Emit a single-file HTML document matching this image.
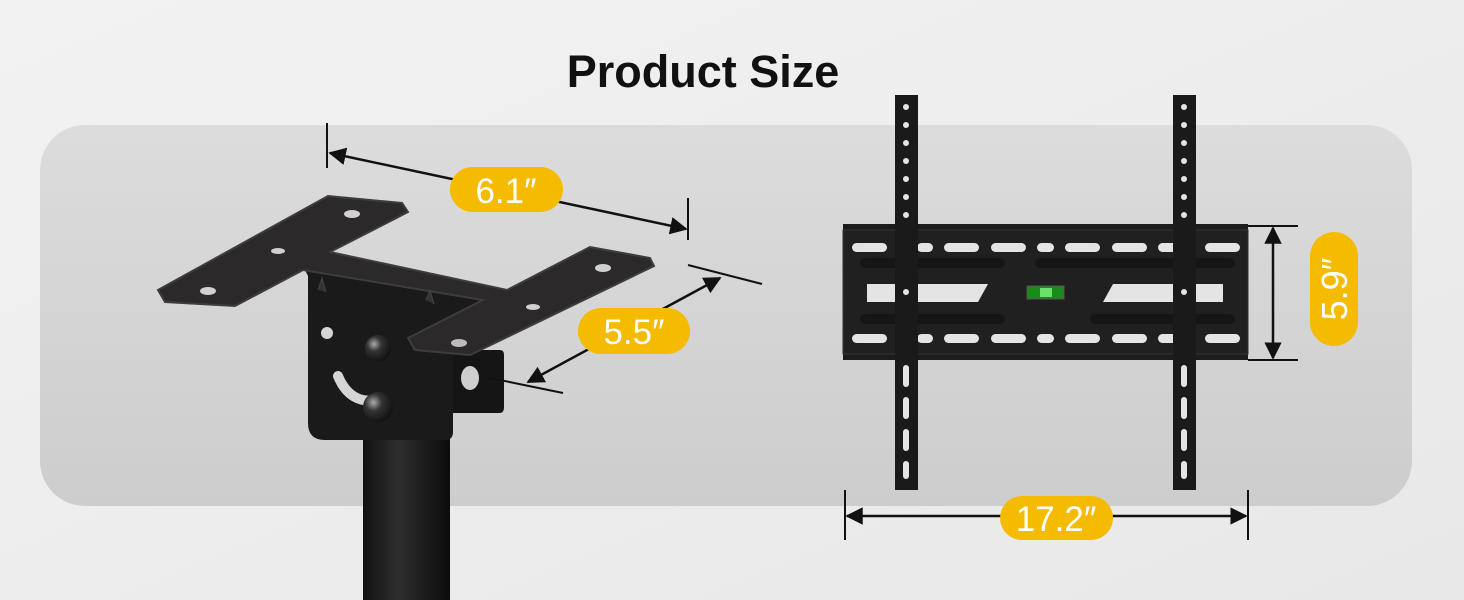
<!DOCTYPE html>
<html><head><meta charset="utf-8"><style>
html,body{margin:0;padding:0;width:1464px;height:600px;overflow:hidden;background:#efefef}
</style></head><body>
<svg width="1464" height="600" viewBox="0 0 1464 600" xmlns="http://www.w3.org/2000/svg" style="display:block">
<defs>
<linearGradient id="bg" x1="0" y1="0" x2="1" y2="1"><stop offset="0" stop-color="#f2f2f2"/><stop offset="1" stop-color="#e8e8e8"/></linearGradient>
<linearGradient id="pn" x1="0" y1="0" x2="0" y2="1"><stop offset="0" stop-color="#dcdcdc"/><stop offset="1" stop-color="#cdcdcd"/></linearGradient>
<linearGradient id="pole" x1="0" y1="0" x2="1" y2="0"><stop offset="0" stop-color="#111"/><stop offset="0.4" stop-color="#2e2e2e"/><stop offset="1" stop-color="#0c0c0c"/></linearGradient>
<radialGradient id="scr" cx="0.35" cy="0.35" r="0.7"><stop offset="0" stop-color="#aaa"/><stop offset="0.4" stop-color="#333"/><stop offset="1" stop-color="#111"/></radialGradient>
<marker id="ah" viewBox="0 0 10 10" refX="9" refY="5" markerWidth="7" markerHeight="7" orient="auto-start-reverse"><path d="M0,0 L10,5 L0,10 z" fill="#111"/></marker>
</defs>
<rect width="1464" height="600" fill="url(#bg)"/>
<rect x="40" y="125" width="1372" height="381" rx="45" fill="url(#pn)"/>
<text x="703" y="87" text-anchor="middle" font-family="Liberation Sans, sans-serif" font-weight="bold" font-size="45" fill="#111">Product Size</text>

<!-- left bracket -->
<rect x="363" y="420" width="87" height="180" fill="url(#pole)"/>
<path d="M453,350 L500,350 Q504,350 504,355 L504,408 Q504,413 499,413 L453,413 z" fill="#151515"/>
<ellipse cx="470" cy="378" rx="9" ry="12" fill="#cfcfcf"/>
<path d="M304,268 L488,299 L453,318 L453,432 Q453,440 445,440 L325,440 Q308,440 308,423 L308,276 z" fill="#1a1a1a"/>
<circle cx="327" cy="333" r="6" fill="#d5d5d5"/>
<path d="M338,376 Q350,405 378,400" stroke="#d5d5d5" stroke-width="10" fill="none" stroke-linecap="round"/>
<circle cx="378" cy="348" r="13" fill="url(#scr)"/>
<circle cx="378" cy="407" r="15" fill="url(#scr)"/>
<path d="M158,290 L328,196 L402,203 L408,212 L330,252 L507,290 L590,247 L650,258 L654,266 L470,355 L415,350 L408,338 L483,300 L303,270 L235,306 L165,302 z" fill="#2b2929" stroke="#3f3c3c" stroke-width="2"/>
<path d="M318,290 L322,278 L326,292 M426,300 L430,290 L434,304" fill="#333" stroke="#444"/>
<ellipse cx="208" cy="291" rx="8" ry="4" fill="#d0d0d0"/><ellipse cx="278" cy="251" rx="7" ry="3" fill="#d0d0d0"/><ellipse cx="352" cy="214" rx="8" ry="4" fill="#d0d0d0"/>
<ellipse cx="603" cy="268" rx="8" ry="4" fill="#d0d0d0"/><ellipse cx="533" cy="307" rx="7" ry="3" fill="#d0d0d0"/><ellipse cx="459" cy="343" rx="8" ry="4" fill="#bbb"/>

<!-- left dims -->
<line x1="327" y1="123" x2="327" y2="168" stroke="#111" stroke-width="2"/>
<line x1="688" y1="198" x2="688" y2="240" stroke="#111" stroke-width="2"/>
<line x1="330" y1="153" x2="686" y2="229" stroke="#111" stroke-width="2.5" marker-start="url(#ah)" marker-end="url(#ah)"/>
<line x1="688" y1="265" x2="762" y2="284" stroke="#111" stroke-width="2"/>
<line x1="490" y1="378" x2="563" y2="393" stroke="#111" stroke-width="2"/>
<line x1="720" y1="278" x2="528" y2="382" stroke="#111" stroke-width="2.5" marker-start="url(#ah)" marker-end="url(#ah)"/>
<rect x="450" y="167" width="113" height="45" rx="22.5" fill="#f5bb00"/>
<text x="506" y="203" text-anchor="middle" font-family="Liberation Sans, sans-serif" font-size="35" fill="#fff">6.1″</text>
<rect x="578" y="308" width="112" height="46" rx="23" fill="#f5bb00"/>
<text x="634" y="344" text-anchor="middle" font-family="Liberation Sans, sans-serif" font-size="35" fill="#fff">5.5″</text>

<!-- right plate -->
<rect x="843" y="224" width="405" height="136" fill="#1c1c1c"/>
<rect x="843" y="230" width="405" height="124" fill="#202020" stroke="#333"/>
<g fill="#e4e4e4">
<rect x="852" y="243" width="35" height="9" rx="4.5"/><rect x="917" y="243" width="16" height="9" rx="4.5"/><rect x="944" y="243" width="35" height="9" rx="4.5"/><rect x="991" y="243" width="35" height="9" rx="4.5"/><rect x="1037" y="243" width="17" height="9" rx="4.5"/><rect x="1065" y="243" width="35" height="9" rx="4.5"/><rect x="1112" y="243" width="35" height="9" rx="4.5"/><rect x="1158" y="243" width="30" height="9" rx="4.5"/><rect x="1205" y="243" width="35" height="9" rx="4.5"/>
<rect x="852" y="334" width="35" height="9" rx="4.5"/><rect x="917" y="334" width="16" height="9" rx="4.5"/><rect x="944" y="334" width="35" height="9" rx="4.5"/><rect x="991" y="334" width="35" height="9" rx="4.5"/><rect x="1037" y="334" width="17" height="9" rx="4.5"/><rect x="1065" y="334" width="35" height="9" rx="4.5"/><rect x="1112" y="334" width="35" height="9" rx="4.5"/><rect x="1158" y="334" width="30" height="9" rx="4.5"/><rect x="1205" y="334" width="35" height="9" rx="4.5"/>
<path d="M867,284 L988,284 L978,302 L867,302 z"/><path d="M1113,284 L1223,284 L1223,302 L1103,302 z"/>
</g>
<path d="M865,263 L1000,263 M1040,263 L1230,263 M865,319 L1000,319 M1095,319 L1230,319" stroke="#161616" stroke-width="10" stroke-linecap="round"/>
<rect x="1027" y="286" width="37" height="13" fill="#1a8a1a" stroke="#555"/>
<rect x="1040" y="288" width="12" height="9" fill="#6be06b"/>
<!-- rails -->
<g>
<rect x="895" y="95" width="23" height="395" fill="#1a1a1a"/>
<rect x="1173" y="95" width="23" height="395" fill="#1a1a1a"/>
<g fill="#e4e4e4">
<circle cx="906" cy="107" r="3"/><circle cx="906" cy="125" r="3"/><circle cx="906" cy="143" r="3"/><circle cx="906" cy="161" r="3"/><circle cx="906" cy="179" r="3"/><circle cx="906" cy="197" r="3"/><circle cx="906" cy="215" r="3"/><circle cx="906" cy="292" r="3"/>
<circle cx="1184" cy="107" r="3"/><circle cx="1184" cy="125" r="3"/><circle cx="1184" cy="143" r="3"/><circle cx="1184" cy="161" r="3"/><circle cx="1184" cy="179" r="3"/><circle cx="1184" cy="197" r="3"/><circle cx="1184" cy="215" r="3"/><circle cx="1184" cy="292" r="3"/>
<rect x="903" y="365" width="6" height="22" rx="3"/><rect x="903" y="397" width="6" height="22" rx="3"/><rect x="903" y="429" width="6" height="22" rx="3"/><rect x="903" y="461" width="6" height="18" rx="3"/>
<rect x="1181" y="365" width="6" height="22" rx="3"/><rect x="1181" y="397" width="6" height="22" rx="3"/><rect x="1181" y="429" width="6" height="22" rx="3"/><rect x="1181" y="461" width="6" height="18" rx="3"/>
</g></g>

<!-- right dims -->
<line x1="1248" y1="226" x2="1298" y2="226" stroke="#111" stroke-width="2"/>
<line x1="1248" y1="360" x2="1298" y2="360" stroke="#111" stroke-width="2"/>
<line x1="1273" y1="228" x2="1273" y2="358" stroke="#111" stroke-width="2.5" marker-start="url(#ah)" marker-end="url(#ah)"/>
<line x1="845" y1="490" x2="845" y2="540" stroke="#111" stroke-width="2"/>
<line x1="1248" y1="490" x2="1248" y2="540" stroke="#111" stroke-width="2"/>
<line x1="847" y1="516" x2="1246" y2="516" stroke="#111" stroke-width="2.5" marker-start="url(#ah)" marker-end="url(#ah)"/>
<rect x="1310" y="232" width="48" height="114" rx="24" fill="#f5bb00"/>
<text transform="translate(1347,289) rotate(-90)" text-anchor="middle" font-family="Liberation Sans, sans-serif" font-size="36" fill="#fff">5.9″</text>
<rect x="1000" y="496" width="113" height="44" rx="22" fill="#f5bb00"/>
<text x="1056" y="531" text-anchor="middle" font-family="Liberation Sans, sans-serif" font-size="35" fill="#fff">17.2″</text>
</svg>
</body></html>
